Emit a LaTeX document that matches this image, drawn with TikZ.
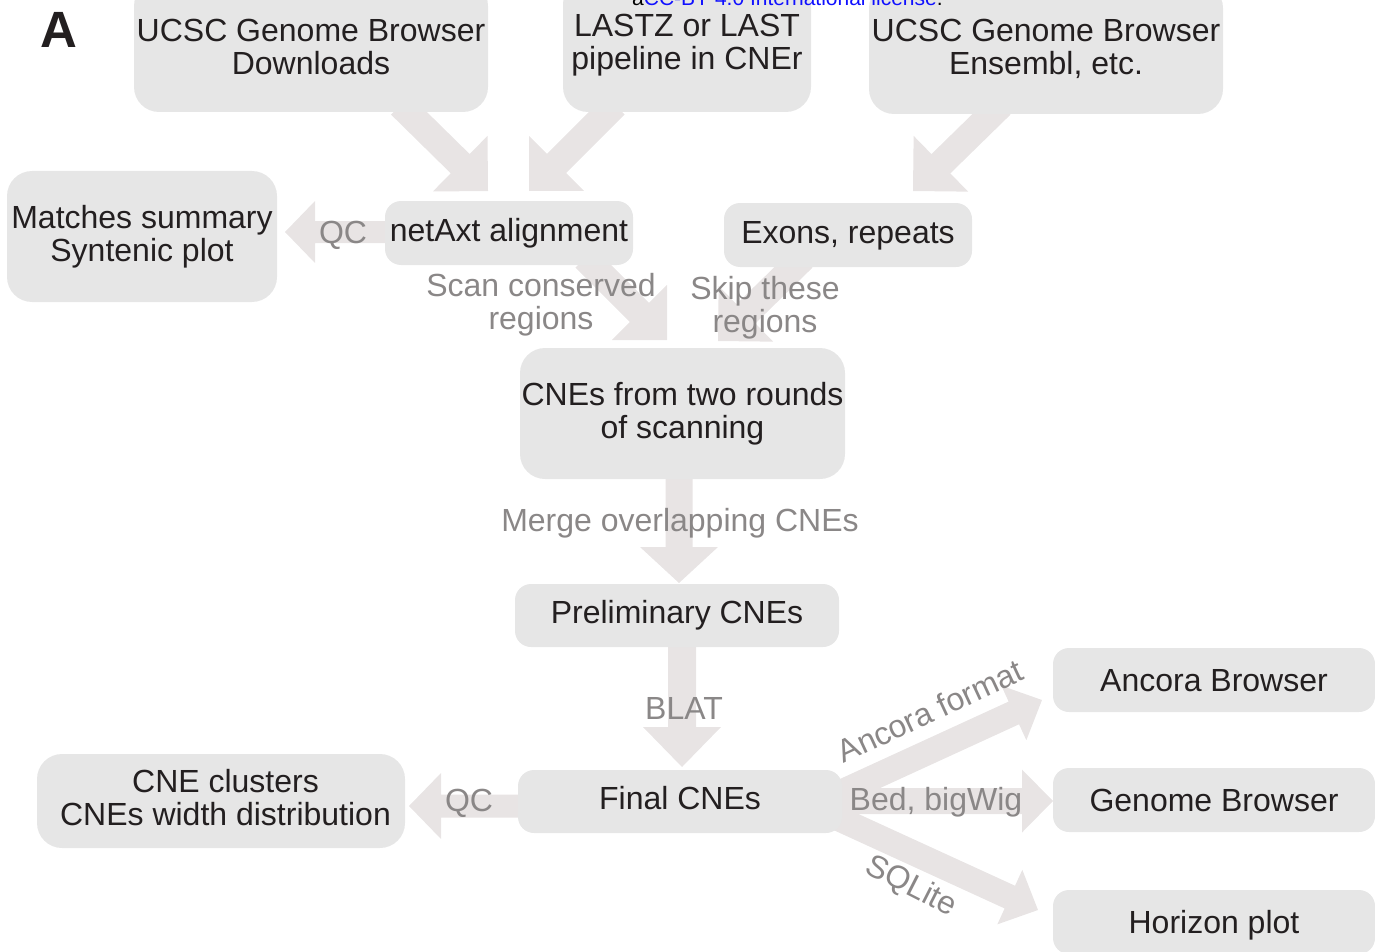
\documentclass[tikz,border=0pt]{standalone}
\usepackage{fontspec}
\setmainfont{Liberation Sans}
\usetikzlibrary{calc}
\definecolor{boxfill}{HTML}{E6E6E6}
\definecolor{arrowfill}{HTML}{E8E4E4}
\definecolor{labelgrey}{HTML}{8A8787}
\definecolor{textblack}{HTML}{231F20}
\definecolor{licblue}{HTML}{1010FF}
% block arrow: tail, tip, shaft width, head width, head length
\newcommand{\blockarrow}[5]{%
  \pgfmathsetmacro{\bahs}{#3/2}%
  \pgfmathsetmacro{\bahw}{#4/2}%
  \coordinate (bah) at ($(#2)!#5pt!(#1)$);
  \fill[arrowfill]
    ($(#1)!\bahs pt!90:(#2)$) --
    ($(bah)!\bahs pt!90:(#2)$) --
    ($(bah)!\bahw pt!90:(#2)$) --
    (#2) --
    ($(bah)!\bahw pt!-90:(#2)$) --
    ($(bah)!\bahs pt!-90:(#2)$) --
    ($(#1)!\bahs pt!-90:(#2)$) -- cycle;
}
\begin{document}
\begin{tikzpicture}[x=1pt,y=-1pt,
  box/.style={fill=boxfill, rounded corners=25pt, inner sep=0pt, align=center,
    text=textblack, font=\fontsize{32}{33}\selectfont},
  boxone/.style={box, rounded corners=16pt, text height=23.3pt, text depth=6.7pt},
  boxr/.style={box, rounded corners=16pt, text height=23pt, text depth=0pt,
    minimum width=322pt, minimum height=64pt},
  lab/.style={text=labelgrey, inner sep=0pt, align=center, font=\fontsize{32}{33}\selectfont},
  labone/.style={lab, text height=23pt, text depth=0pt},
]
\useasboundingbox (0,0) rectangle (1375,952);
\clip (0,0) rectangle (1375,952);

% ---------- arrow end points ----------
\coordinate (a1s) at (400.5,105);  \coordinate (a1e) at (488,191);
\coordinate (a2s) at (615,105);    \coordinate (a2e) at (529,191);
\coordinate (a3s) at (1001,105);   \coordinate (a3e) at (913,191);
\coordinate (scs) at (585,258);    \coordinate (sce) at (667,340);
\coordinate (sks) at (803,258);    \coordinate (ske) at (718,341);
\coordinate (mgs) at (679,470);    \coordinate (mge) at (679,583);
\coordinate (bls) at (682,640);    \coordinate (ble) at (682,767);
\coordinate (q1s) at (395,232);    \coordinate (q1e) at (285,232);
\coordinate (q2s) at (528,806);    \coordinate (q2e) at (409,806);
\coordinate (ans) at (835,795);    \coordinate (ane) at (1042,700);
\coordinate (bds) at (835,801);    \coordinate (bde) at (1053,801);
\coordinate (sqs) at (835,817);    \coordinate (sqe) at (1038,910);

% ---------- arrows ----------
\blockarrow{a1s}{a1e}{27}{78}{39}
\blockarrow{a2s}{a2e}{27}{78}{39}
\blockarrow{a3s}{a3e}{27}{78}{39}
\blockarrow{scs}{sce}{27}{78}{39}
\blockarrow{sks}{ske}{27}{78}{39}
\blockarrow{mgs}{mge}{27}{78}{36}
\blockarrow{bls}{ble}{28}{78}{40}
\blockarrow{q1s}{q1e}{22}{62}{30}
\blockarrow{q2s}{q2e}{23}{66}{32}
\blockarrow{ans}{ane}{25}{60}{31}
\blockarrow{bds}{bde}{26}{63}{31}
\blockarrow{sqs}{sqe}{25}{60}{31}

% ---------- boxes ----------
\node[box, minimum width=354pt, minimum height=131pt] (dl) at (311,46.5) {UCSC Genome Browser\\Downloads};
\node[box, minimum width=248pt, minimum height=133pt] (lz) at (687,45.5) {LASTZ or LAST\\pipeline in CNEr};
\node[box, minimum width=354pt, minimum height=131pt] (ens) at (1046,48.5) {UCSC Genome Browser\\Ensembl, etc.};
\node[box, minimum width=270pt, minimum height=131pt] (ms) at (142,236.5) {Matches summary\\Syntenic plot};
\node[boxone, minimum width=248pt, minimum height=64pt] (net) at (509,233) {netAxt alignment};
\node[boxone, minimum width=248pt, minimum height=64pt] (ex) at (848,235) {Exons, repeats};
\node[box, minimum width=325pt, minimum height=131pt] (cne) at (682.5,413.5) {CNEs from two rounds\\of scanning};
\node[boxone, minimum width=324pt, minimum height=63pt] (pre) at (677,615.5) {Preliminary CNEs};
\node[boxone, minimum width=324pt, minimum height=63pt] (fin) at (680,801.5) {Final CNEs};
\node[box, text depth=7pt, minimum width=368pt, minimum height=94pt] (clu) at (221,801)
  {\hspace*{9pt}CNE clusters\\\hspace*{9pt}CNEs width distribution};
\node[boxr] (anc) at (1214,680) {Ancora Browser};
\node[boxr] (gb) at (1214,800) {Genome Browser};
\node[boxr] (hz) at (1214,922) {Horizon plot};

% ---------- arrow labels ----------
\node[labone] (lq1) at (343,232) {QC};
\node[labone] (lq2) at (469,800) {QC};
\node[lab] (lsc) at (541,304.5) {Scan conserved\\regions};
\node[lab] (lsk) at (765,307.5) {Skip these\\regions};
\node[labone] (lmg) at (680,520) {Merge overlapping CNEs};
\node[labone] (lbl) at (684,708) {BLAT};
\node[labone, rotate=25] (lan) at (930,711) {Ancora format};
\node[labone] (lbd) at (936,799) {Bed, bigWig};
\node[labone, rotate=-27] (lsq) at (912,884) {SQLite};

% ---------- panel letter and license line ----------
\node[inner sep=0pt, text=textblack, font=\fontsize{51}{51}\selectfont\bfseries,
  text height=36pt, text depth=0pt] (pa) at (59,30) {A};
\node[anchor=base west, inner sep=0pt, font=\fontsize{21}{21}\selectfont] (lic) at (632,6)
  {a\textcolor{licblue}{CC-BY 4.0 International license}.};
\end{tikzpicture}
\end{document}
